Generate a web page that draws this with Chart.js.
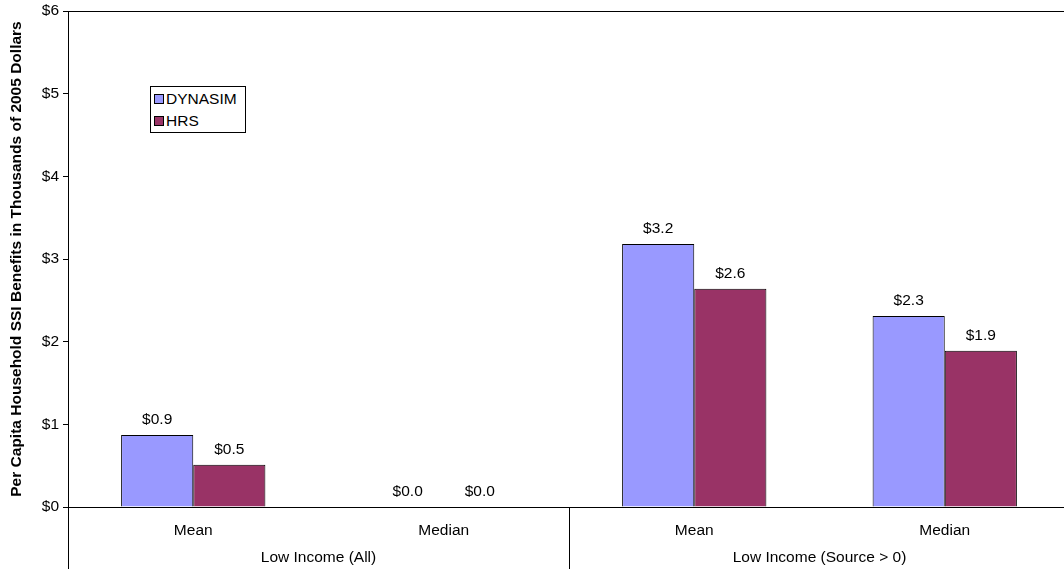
<!DOCTYPE html>
<html>
<head>
<meta charset="utf-8">
<script src="https://cdn.jsdelivr.net/npm/chart.js@4.4.1/dist/chart.umd.min.js"></script>
<style>
  html, body { margin: 0; padding: 0; background: #fff; overflow: hidden; }
  #wrap { position: relative; width: 1072px; height: 569px; }
  #legend {
    position: absolute; left: 150px; top: 86px; width: 96px; height: 47px;
    border: 1px solid #000; background: #fff;
    font: 15.5px "Liberation Sans", Arial, sans-serif; color: #000;
    box-sizing: border-box; padding: 1px 0 0 3px;
  }
  #legend div { height: 22px; line-height: 22px; display: flex; align-items: center; }
  #legend span.sw { display: inline-block; width: 8px; height: 8px; border: 1px solid #000; margin-right: 2px; }
</style>
</head>
<body>
<div id="wrap">
  <canvas id="chart"></canvas>
  <div id="legend"></div>
</div>
<script>
const categories = ['Mean', 'Median', 'Mean', 'Median'];
const groups = ['Low Income (All)', 'Low Income (Source > 0)'];
const dynasim = [0.87, 0.0, 3.18, 2.31];
const hrs = [0.51, 0.0, 2.64, 1.89];
const yTicks = [0, 1, 2, 3, 4, 5, 6];

const font = "'Liberation Sans', Arial, sans-serif";
const fs = 15.5;

const extras = {
  id: 'extras',
  afterDatasetsDraw(chart) {
    const ctx = chart.ctx;
    ctx.save();
    ctx.font = fs + 'px ' + font;
    ctx.fillStyle = '#000';
    ctx.textAlign = 'center';
    ctx.textBaseline = 'middle';
    chart.data.datasets.forEach((ds, i) => {
      chart.getDatasetMeta(i).data.forEach((bar, j) => {
        ctx.fillText('$' + ds.data[j].toFixed(1), bar.x, bar.y - 15);
      });
    });
    ctx.restore();
  },
  afterDraw(chart) {
    const ctx = chart.ctx;
    const a = chart.chartArea;
    const x = chart.scales.x;
    const h = chart.height;
    ctx.save();
    ctx.strokeStyle = '#000';
    ctx.lineWidth = 1;
    // top border of plot area
    ctx.beginPath();
    ctx.moveTo(a.left, a.top + 0.5);
    ctx.lineTo(a.right, a.top + 0.5);
    ctx.stroke();
    // group dividers below the axis
    const mid = (x.getPixelForValue(1) + x.getPixelForValue(2)) / 2;
    [a.left, mid, a.right].forEach(px => {
      ctx.beginPath();
      ctx.moveTo(Math.round(px) + 0.5, a.bottom);
      ctx.lineTo(Math.round(px) + 0.5, h);
      ctx.stroke();
    });
    // group labels
    ctx.font = fs + 'px ' + font;
    ctx.fillStyle = '#000';
    ctx.textAlign = 'center';
    ctx.textBaseline = 'middle';
    groups.forEach((g, i) => {
      const cx = (x.getPixelForValue(i * 2) + x.getPixelForValue(i * 2 + 1)) / 2;
      ctx.fillText(g, cx, 558);
    });
    ctx.restore();
  }
};

const chart = new Chart(document.getElementById('chart'), {
  type: 'bar',
  data: {
    labels: categories,
    datasets: [
      { label: 'DYNASIM', data: dynasim, backgroundColor: '#9999FF', borderColor: '#000', borderWidth: 1 },
      { label: 'HRS', data: hrs, backgroundColor: '#993366', borderColor: '#000', borderWidth: 1 }
    ]
  },
  options: {
    responsive: true,
    maintainAspectRatio: false,
    animation: false,
    layout: { padding: { top: 11, right: 2, left: 0, bottom: 0 } },
    datasets: { bar: { categoryPercentage: 0.576, barPercentage: 1 } },
    scales: {
      x: {
        grid: { display: true, drawOnChartArea: false, drawTicks: false },
        border: { color: '#000', width: 1 },
        ticks: { color: '#000', font: { family: font, size: fs }, padding: 14, maxRotation: 0 },
        afterFit(scale) { scale.height = 62; }
      },
      y: {
        min: 0,
        max: 6,
        afterBuildTicks(scale) { scale.ticks = yTicks.map(v => ({ value: v })); },
        grid: { drawOnChartArea: false, tickLength: 5, color: '#000' },
        border: { color: '#000', width: 1 },
        ticks: {
          color: '#000',
          font: { family: font, size: fs },
          padding: 4,
          callback: v => '$' + v
        },
        title: {
          display: true,
          text: 'Per Capita Household SSI Benefits in Thousands of 2005 Dollars',
          color: '#000',
          font: { family: font, size: fs, weight: 'bold' },
          padding: { top: 7, bottom: 4 }
        },
        afterFit(scale) { scale.width = 68; scale.paddingTop = 0; scale.paddingBottom = 0; }
      }
    },
    plugins: {
      legend: { display: false },
      tooltip: { enabled: false }
    }
  },
  plugins: [extras]
});

document.getElementById('legend').innerHTML = chart.data.datasets.map(ds =>
  '<div><span class="sw" style="background:' + ds.backgroundColor + '"></span>' + ds.label + '</div>'
).join('');
</script>
</body>
</html>
